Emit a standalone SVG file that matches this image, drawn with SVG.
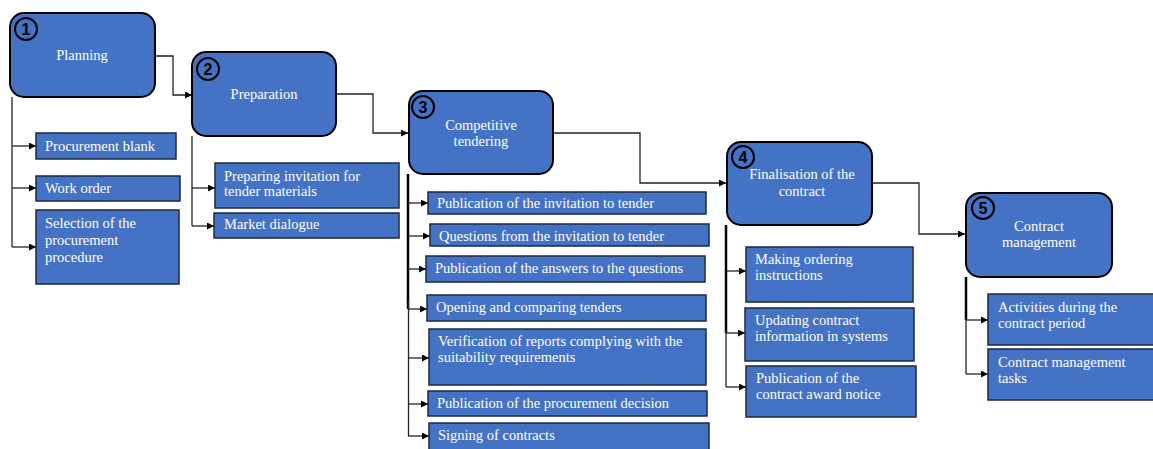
<svg xmlns="http://www.w3.org/2000/svg" width="1153" height="449" viewBox="0 0 1153 449">
  <style>
    .stage { fill: #4472C4; stroke: #000; stroke-width: 2; }
    .task { fill: #4472C4; stroke: #1e2a40; stroke-width: 1.5; }
    .num { fill: none; stroke: #000; stroke-width: 2; }
    .numt { font-family: 'Liberation Sans', Arial, sans-serif; font-weight: bold; font-size: 16px; fill: #000; text-anchor: middle; }
    .lbl { font-family: 'Liberation Serif', 'DejaVu Serif', 'Times New Roman', serif; font-size: 14.5px; fill: #fff; }
    .c { text-anchor: middle; }
    .link { fill: none; stroke: #222; stroke-width: 1.3; }
    .trunk { fill: none; stroke: #000; stroke-width: 2.5; }
  </style>
  <defs>
    <marker id="arr" viewBox="0 0 10 10" refX="10" refY="5" markerWidth="7" markerHeight="7" markerUnits="userSpaceOnUse" orient="auto">
      <path d="M0,0 L10,5 L0,10 z" fill="#000"/>
    </marker>
  </defs>

  <!-- connectors -->
  <g id="connectors">
    <!-- stage to stage -->
    <path class="link" d="M155,56 H173 V95 H192" marker-end="url(#arr)"/>
    <path class="link" d="M336,94 H373 V133 H408" marker-end="url(#arr)"/>
    <path class="link" d="M553,133 H640 V183 H726" marker-end="url(#arr)"/>
    <path class="link" d="M872,183 H919 V234 H965" marker-end="url(#arr)"/>

    <!-- planning tasks -->
    <path class="link" d="M12,97 V247"/>
    <path class="link" d="M12,146 H36" marker-end="url(#arr)"/>
    <path class="link" d="M12,188 H36" marker-end="url(#arr)"/>
    <path class="link" d="M12,247 H36" marker-end="url(#arr)"/>

    <!-- preparation tasks -->
    <path class="link" d="M192,136 V226"/>
    <path class="link" d="M192,188 H215" marker-end="url(#arr)"/>
    <path class="link" d="M192,226 H214" marker-end="url(#arr)"/>

    <!-- competitive tendering tasks -->
    <path class="trunk" d="M408,174 V309"/>
    <path class="link" d="M408.5,300 V436"/>
    <path class="link" d="M408,203 H428" marker-end="url(#arr)"/>
    <path class="link" d="M408,236 H430" marker-end="url(#arr)"/>
    <path class="link" d="M408,269 H426" marker-end="url(#arr)"/>
    <path class="link" d="M408,309 H427" marker-end="url(#arr)"/>
    <path class="link" d="M408,358 H429" marker-end="url(#arr)"/>
    <path class="link" d="M408,404 H428" marker-end="url(#arr)"/>
    <path class="link" d="M408,436 H429" marker-end="url(#arr)"/>

    <!-- finalisation tasks -->
    <path class="trunk" d="M726,225 V333"/>
    <path class="link" d="M726,330 V387"/>
    <path class="link" d="M726,271 H746" marker-end="url(#arr)"/>
    <path class="link" d="M726,333 H745" marker-end="url(#arr)"/>
    <path class="link" d="M726,387 H746" marker-end="url(#arr)"/>

    <!-- contract management tasks -->
    <path class="trunk" d="M966,277 V320"/>
    <path class="link" d="M966,318 V374"/>
    <path class="link" d="M966,320 H988" marker-end="url(#arr)"/>
    <path class="link" d="M966,374 H988" marker-end="url(#arr)"/>
  </g>

  <!-- stage 1 -->
  <g id="planning">
    <rect class="stage" x="10" y="13" width="145" height="84" rx="14"/>
    <circle class="num" cx="26" cy="29" r="11"/>
    <text class="numt" x="26" y="35">1</text>
    <text class="lbl c" x="82" y="60">Planning</text>
  </g>
  <g id="procurement-blank">
    <rect class="task" x="36" y="133" width="140" height="26"/>
    <text class="lbl" x="45" y="151">Procurement blank</text>
  </g>
  <g id="work-order">
    <rect class="task" x="36" y="176" width="144" height="25"/>
    <text class="lbl" x="45" y="193">Work order</text>
  </g>
  <g id="selection-procedure">
    <rect class="task" x="36" y="210" width="143" height="74"/>
    <text class="lbl" x="45" y="228">Selection of the</text>
    <text class="lbl" x="45" y="245">procurement</text>
    <text class="lbl" x="45" y="262">procedure</text>
  </g>

  <!-- stage 2 -->
  <g id="preparation">
    <rect class="stage" x="192" y="52" width="144" height="84" rx="14"/>
    <circle class="num" cx="208" cy="69" r="11"/>
    <text class="numt" x="208" y="75">2</text>
    <text class="lbl c" x="264" y="99">Preparation</text>
  </g>
  <g id="preparing-invitation">
    <rect class="task" x="215" y="163" width="184" height="45"/>
    <text class="lbl" x="224" y="181">Preparing invitation for</text>
    <text class="lbl" x="224" y="196">tender materials</text>
  </g>
  <g id="market-dialogue">
    <rect class="task" x="214" y="213" width="185" height="25"/>
    <text class="lbl" x="224" y="229">Market dialogue</text>
  </g>

  <!-- stage 3 -->
  <g id="competitive-tendering">
    <rect class="stage" x="409" y="91" width="144" height="83" rx="14"/>
    <circle class="num" cx="423" cy="107" r="11"/>
    <text class="numt" x="423" y="113">3</text>
    <text class="lbl c" x="481" y="130">Competitive</text>
    <text class="lbl c" x="481" y="146">tendering</text>
  </g>
  <g id="publication-invitation">
    <rect class="task" x="428" y="192" width="278" height="22"/>
    <text class="lbl" x="437" y="208">Publication of the invitation to tender</text>
  </g>
  <g id="questions">
    <rect class="task" x="430" y="224" width="279" height="22"/>
    <text class="lbl" x="439" y="241">Questions from the invitation to tender</text>
  </g>
  <g id="publication-answers">
    <rect class="task" x="426" y="256" width="279" height="26"/>
    <text class="lbl" x="435" y="273">Publication of the answers to the questions</text>
  </g>
  <g id="opening-comparing">
    <rect class="task" x="427" y="295" width="279" height="26"/>
    <text class="lbl" x="436" y="312">Opening and comparing tenders</text>
  </g>
  <g id="verification">
    <rect class="task" x="429" y="329" width="277" height="56"/>
    <text class="lbl" x="438" y="346">Verification of reports complying with the</text>
    <text class="lbl" x="438" y="362">suitability requirements</text>
  </g>
  <g id="publication-decision">
    <rect class="task" x="428" y="391" width="279" height="25"/>
    <text class="lbl" x="437" y="408">Publication of the procurement decision</text>
  </g>
  <g id="signing-contracts">
    <rect class="task" x="429" y="423" width="280" height="34"/>
    <text class="lbl" x="438" y="440">Signing of contracts</text>
  </g>

  <!-- stage 4 -->
  <g id="finalisation">
    <rect class="stage" x="727" y="142" width="145" height="83" rx="14"/>
    <circle class="num" cx="743" cy="157" r="11"/>
    <text class="numt" x="743" y="163">4</text>
    <text class="lbl c" x="802" y="179">Finalisation of the</text>
    <text class="lbl c" x="802" y="196">contract</text>
  </g>
  <g id="ordering-instructions">
    <rect class="task" x="746" y="247" width="167" height="55"/>
    <text class="lbl" x="755" y="264">Making ordering</text>
    <text class="lbl" x="755" y="280">instructions</text>
  </g>
  <g id="updating-contract">
    <rect class="task" x="745" y="308" width="169" height="53"/>
    <text class="lbl" x="755" y="325">Updating contract</text>
    <text class="lbl" x="755" y="341">information in systems</text>
  </g>
  <g id="award-notice">
    <rect class="task" x="746" y="366" width="170" height="51"/>
    <text class="lbl" x="756" y="383">Publication of the</text>
    <text class="lbl" x="756" y="399">contract award notice</text>
  </g>

  <!-- stage 5 -->
  <g id="contract-management">
    <rect class="stage" x="966" y="193" width="146" height="84" rx="14"/>
    <circle class="num" cx="983" cy="208" r="11"/>
    <text class="numt" x="983" y="214">5</text>
    <text class="lbl c" x="1039" y="231">Contract</text>
    <text class="lbl c" x="1039" y="247">management</text>
  </g>
  <g id="activities-period">
    <rect class="task" x="988" y="294" width="175" height="51"/>
    <text class="lbl" x="998" y="312">Activities during the</text>
    <text class="lbl" x="998" y="328">contract period</text>
  </g>
  <g id="management-tasks">
    <rect class="task" x="988" y="349" width="175" height="51"/>
    <text class="lbl" x="998" y="367">Contract management</text>
    <text class="lbl" x="998" y="383">tasks</text>
  </g>
</svg>
